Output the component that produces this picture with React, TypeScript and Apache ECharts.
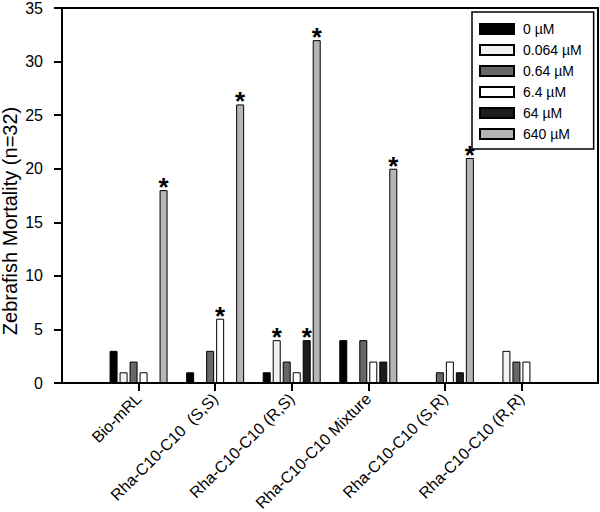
import React, { useEffect, useRef } from "react";
import * as echarts from "echarts";

const categories = [
  "Bio-mRL",
  "Rha-C10-C10  (S,S)",
  "Rha-C10-C10 (R,S)",
  "Rha-C10-C10 Mixture",
  "Rha-C10-C10 (S,R)",
  "Rha-C10-C10 (R,R)",
];

const seriesNames = ["0 µM", "0.064 µM", "0.64 µM", "6.4 µM", "64 µM", "640 µM"];

const conc0 = [3, 1, 1, 4, 0, 0];
const conc0064 = [1, 0, 4, 0, 0, 3];
const conc064 = [2, 3, 2, 4, 1, 2];
const conc64a = [1, 6, 1, 2, 2, 2];
const conc64 = [0, 0, 4, 2, 1, 0];
const conc640 = [18, 26, 32, 20, 21, 0];

// significance asterisks (1 = marked)
const sig0 = [0, 0, 0, 0, 0, 0];
const sig0064 = [0, 0, 1, 0, 0, 0];
const sig064 = [0, 0, 0, 0, 0, 0];
const sig64a = [0, 1, 0, 0, 0, 0];
const sig64 = [0, 0, 1, 0, 0, 0];
const sig640 = [1, 1, 1, 1, 1, 0];

const yTicks = { min: 0, max: 35, interval: 5 };

const colors = ["#000000", "#f2f2f2", "#676767", "#ffffff", "#1c1c1c", "#b5b5b5"];

const FONT = "'Liberation Sans', Arial, sans-serif";

export default function App() {
  const ref = useRef<HTMLDivElement>(null);

  useEffect(() => {
    if (!ref.current) return;
    const chart = echarts.init(ref.current, null, { renderer: "svg" });
    const values = [conc0, conc0064, conc064, conc64a, conc64, conc640];
    const sigs = [sig0, sig0064, sig064, sig64a, sig64, sig640];
    const axisCats = ["", ...categories, ""];

    const series = seriesNames.map((name, si) => {
      const data: any[] = [null];
      values[si].forEach((v, ci) => {
        if (v === 0) {
          data.push(null);
        } else if (sigs[si][ci]) {
          data.push({ value: v, label: { show: true } });
        } else {
          data.push(v);
        }
      });
      data.push(null);
      return {
        type: "bar",
        name,
        data,
        barWidth: 8,
        barGap: "25%",
        itemStyle: { color: colors[si], borderColor: "#000", borderWidth: 1 },
        label: {
          show: false,
          position: "top",
          distance: -10,
          formatter: "*",
          fontSize: 26,
          fontWeight: "bold",
          fontFamily: FONT,
          color: "#000",
        },
        emphasis: { disabled: true },
      };
    });

    chart.setOption({
      animation: false,
      backgroundColor: "#fff",
      textStyle: { fontFamily: FONT },
      grid: {
        left: 62,
        right: 2,
        top: 8,
        bottom: 129,
        containLabel: false,
        outerBoundsMode: "none",
        show: true,
        borderColor: "#000",
        borderWidth: 2,
        backgroundColor: "transparent",
      },
      legend: {
        orient: "vertical",
        left: 472,
        top: 12,
        backgroundColor: "#fff",
        borderColor: "#000",
        borderWidth: 1.5,
        padding: [10, 12, 8, 7],
        itemWidth: 34,
        itemHeight: 10,
        itemGap: 7,
        icon: "rect",
        textStyle: { fontSize: 14, fontFamily: FONT, color: "#000", padding: [0, 0, 0, 4] },
        data: seriesNames,
      },
      xAxis: {
        type: "category",
        data: axisCats,
        boundaryGap: false,
        axisLine: { show: true, lineStyle: { color: "#000", width: 2 } },
        axisTick: {
          show: true,
          inside: false,
          length: 8,
          lineStyle: { color: "#000", width: 2 },
          interval: (_i: number, v: string) => v !== "",
        },
        axisLabel: {
          interval: 0,
          rotate: 45,
          fontSize: 16,
          fontFamily: FONT,
          color: "#000",
          margin: 13,
        },
        splitLine: { show: false },
      },
      yAxis: {
        type: "value",
        min: yTicks.min,
        max: yTicks.max,
        interval: yTicks.interval,
        axisLine: { show: true, lineStyle: { color: "#000", width: 2 } },
        axisTick: { show: true, inside: false, length: 8, lineStyle: { color: "#000", width: 2 } },
        axisLabel: { fontSize: 16, fontFamily: FONT, color: "#000", margin: 19 },
        splitLine: { show: false },
      },
      graphic: [
        {
          type: "text",
          x: 10,
          y: 221,
          rotation: Math.PI / 2,
          style: {
            text: "Zebrafish Mortality (n=32)",
            fontSize: 20,
            fontFamily: FONT,
            fill: "#000",
            textAlign: "center",
            textVerticalAlign: "middle",
          },
        },
      ],
      series,
    });
    return () => chart.dispose();
  }, []);

  return (
    <div
      ref={ref}
      style={{ position: "fixed", left: 0, top: 0, width: 600, height: 512 }}
    />
  );
}
